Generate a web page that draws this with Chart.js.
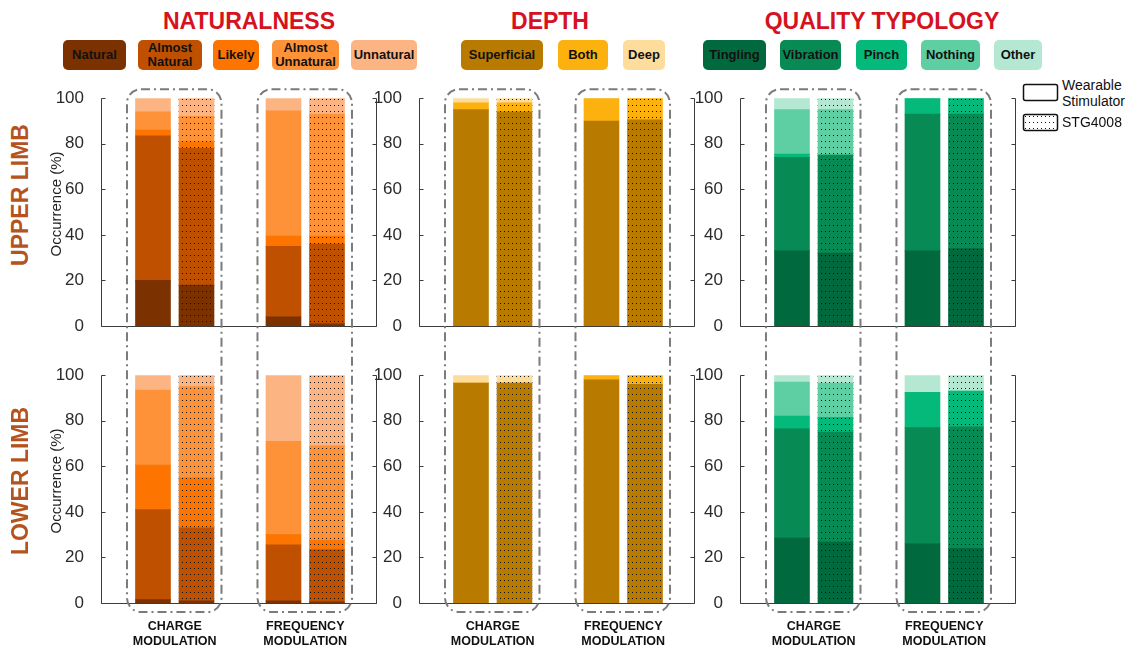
<!DOCTYPE html>
<html>
<head>
<meta charset="utf-8">
<script src="https://cdn.jsdelivr.net/npm/chart.js@4.4.1/dist/chart.umd.min.js"></script>
<style>
  body { margin: 0; background: #fff; }
  #fig { position: relative; width: 1138px; height: 650px; overflow: hidden; background: #fff;
         font-family: "Liberation Sans", Arial, sans-serif; }
  #fig canvas { position: absolute; }
  .title { position: absolute; top: 8px; font-weight: bold; font-size: 23px; color: #d5121e;
           transform: translateX(-50%); white-space: nowrap; }
  .chip { position: absolute; top: 40px; height: 30px; border-radius: 5px; display: flex;
          align-items: center; justify-content: center; text-align: center; font-weight: bold;
          font-size: 13px; line-height: 14px; color: #111; }
  .rot { position: absolute; white-space: nowrap; transform: translate(-50%, -50%) rotate(-90deg); }
  .limb { font-weight: bold; font-size: 23px; color: #b5531f; }
  .ylab { font-size: 15px; color: #222; }
  .leg { position: absolute; font-size: 14px; color: #111; line-height: 16px; }
</style>
</head>
<body>
<div id="fig"></div>
<script>
// ---- categories and values (percent of occurrences) ----
// bar order in each panel: charge/wearable, charge/STG4008, frequency/wearable, frequency/STG4008
const barX = [1, 2, 4, 5];
const groupX = [1.5, 4.5];
const groupLabels = [['CHARGE', 'MODULATION'], ['FREQUENCY', 'MODULATION']];
const yTicks = [0, 20, 40, 60, 80, 100];

const naturalnessCats = ['Natural', 'Almost Natural', 'Likely', 'Almost Unnatural', 'Unnatural'];
const depthCats = ['Superficial', 'Both', 'Deep'];
const qualityCats = ['Tingling', 'Vibration', 'Pinch', 'Nothing', 'Other'];

// naturalness, upper limb (one row per category)
const natUpper = [
  [20, 18, 4, 1],
  [63.5, 60, 31, 35],
  [2.5, 3, 4.5, 3.5],
  [8, 11, 55, 53.5],
  [6, 8, 5.5, 7]
];
// naturalness, lower limb
const natLower = [
  [1.5, 1, 1, 0.5],
  [39.5, 32, 24.5, 23],
  [19.5, 22, 4.5, 4],
  [33, 40, 41, 41.5],
  [6.5, 5, 29, 31]
];
// depth, upper limb
const depthUpper = [
  [95, 94, 90, 90.5],
  [3, 4, 10, 9.5],
  [2, 2, 0, 0]
];
// depth, lower limb
const depthLower = [
  [96.5, 96.5, 98, 96],
  [0, 0, 2, 4],
  [3.5, 3.5, 0, 0]
];
// quality typology, upper limb
const qualUpper = [
  [33, 32, 33, 34],
  [41, 43, 60, 59],
  [1.5, 0, 7, 7],
  [19.5, 20, 0, 0],
  [5, 5, 0, 0]
];
// quality typology, lower limb
const qualLower = [
  [28.5, 27, 26, 24],
  [48, 48, 51, 53.5],
  [5.5, 6.5, 15.5, 15.5],
  [15, 15, 0, 0],
  [3, 3.5, 7.5, 7]
];

// ---- styling ----
const natColors = ['#7c3100', '#bf5000', '#fe7400', '#fd9238', '#fdb483'];
const depthColors = ['#b97a00', '#fdb10f', '#fedc9b'];
const qualColors = ['#006a3e', '#088a54', '#05b97b', '#5dcfa2', '#b4e8d2'];

const FONT = '"Liberation Sans", Arial, sans-serif';
Chart.defaults.font.family = FONT;

const PLOT_W = 276, PLOT_H = 232;
const X_MIN = -0.195, X_MAX = X_MIN + PLOT_W / 43.5;
const Y_W = 60, PAD_T = 15, PAD_R = 15, X_H = 55;
const colLeft = [101, 419, 740];
const rowTop = [94, 371];

const fig = document.getElementById('fig');

// STG4008 bars are drawn with a dotted fill over the category colour
const patternCache = {};
function dotted(color) {
  if (patternCache[color]) return patternCache[color];
  const c = document.createElement('canvas');
  c.width = 4; c.height = 6;
  const g = c.getContext('2d');
  g.fillStyle = color; g.fillRect(0, 0, 4, 6);
  g.fillStyle = '#111';
  g.fillRect(1, 2, 1, 1);
  const p = g.createPattern(c, 'repeat');
  patternCache[color] = p;
  return p;
}

// left/right/bottom axis lines with inward ticks
const axisFrame = {
  id: 'axisFrame',
  afterDraw(chart) {
    const { ctx, chartArea: a, scales: { y } } = chart;
    const l = Math.round(a.left) + 0.5, r = Math.round(a.right) - 0.5;
    const top = Math.round(y.getPixelForValue(100)) + 0.5;
    const bot = Math.round(y.getPixelForValue(0)) + 0.5;
    ctx.save();
    ctx.strokeStyle = '#3c3c3c';
    ctx.lineWidth = 1;
    ctx.beginPath();
    ctx.moveTo(l, top); ctx.lineTo(l, bot); ctx.lineTo(r, bot); ctx.lineTo(r, top);
    yTicks.forEach(v => {
      const py = Math.round(y.getPixelForValue(v)) + 0.5;
      ctx.moveTo(l, py); ctx.lineTo(l + 4, py);
      ctx.moveTo(r, py); ctx.lineTo(r - 4, py);
    });
    ctx.stroke();
    ctx.restore();
  }
};

const charts = [];
function makePanel(col, row, cats, colors, rows) {
  const canvas = document.createElement('canvas');
  const w = Y_W + PLOT_W + PAD_R, h = PAD_T + PLOT_H + X_H;
  canvas.width = w; canvas.height = h;
  canvas.style.width = w + 'px'; canvas.style.height = h + 'px';
  canvas.style.left = (colLeft[col] - Y_W) + 'px';
  canvas.style.top = (rowTop[row] - PAD_T) + 'px';
  fig.appendChild(canvas);

  const datasets = cats.map((name, k) => ({
    label: name,
    data: barX.map((x, i) => ({ x, y: rows[k][i] })),
    backgroundColor: barX.map((x, i) => (i % 2 ? dotted(colors[k]) : colors[k])),
    borderWidth: 0,
    barThickness: 35
  }));

  const chart = new Chart(canvas, {
    type: 'bar',
    data: { datasets },
    options: {
      responsive: false,
      animation: false,
      devicePixelRatio: 1,
      layout: { padding: { top: PAD_T, right: PAD_R, left: 0, bottom: 0 } },
      plugins: { legend: { display: false }, tooltip: { enabled: false } },
      scales: {
        x: {
          type: 'linear', stacked: true, min: X_MIN, max: X_MAX, offset: false,
          grid: { display: false }, border: { display: false },
          afterBuildTicks: s => { s.ticks = groupX.map(v => ({ value: v })); },
          afterFit: s => { s.height = X_H; },
          ticks: {
            display: row === 1, autoSkip: false, maxRotation: 0, minRotation: 0, padding: 8,
            color: '#111', font: { size: 12.5, weight: 'bold', lineHeight: 1.2 },
            callback: (v, i) => groupLabels[i]
          }
        },
        y: {
          stacked: true, min: 0, max: 100,
          grid: { display: false }, border: { display: false },
          afterBuildTicks: s => { s.ticks = yTicks.map(v => ({ value: v })); },
          afterFit: s => { s.width = Y_W; },
          ticks: { padding: 9, color: '#2b2b2b', font: { size: 17 } }
        }
      }
    },
    plugins: [axisFrame]
  });
  charts.push({ chart, col, row, left: colLeft[col] - Y_W, top: rowTop[row] - PAD_T });
  return chart;
}

makePanel(0, 0, naturalnessCats, natColors, natUpper);
makePanel(0, 1, naturalnessCats, natColors, natLower);
makePanel(1, 0, depthCats, depthColors, depthUpper);
makePanel(1, 1, depthCats, depthColors, depthLower);
makePanel(2, 0, qualityCats, qualColors, qualUpper);
makePanel(2, 1, qualityCats, qualColors, qualLower);

// ---- titles, category chips, side labels ----
function addDiv(cls, text, style) {
  const d = document.createElement('div');
  d.className = cls;
  d.innerHTML = text;
  Object.assign(d.style, style);
  fig.appendChild(d);
  return d;
}
addDiv('title', 'NATURALNESS', { left: '249px' });
addDiv('title', 'DEPTH', { left: '550px' });
addDiv('title', 'QUALITY TYPOLOGY', { left: '882px' });

const chipSpans = {
  nat: [[63, 126], [138, 202], [213, 259], [272, 339], [351, 417]],
  depth: [[461, 543], [558, 608], [623, 665]],
  qual: [[703, 766], [780, 841], [856, 907], [921, 980], [994, 1042]]
};
function chips(cats, colors, spans) {
  cats.forEach((name, k) => {
    addDiv('chip', name.replace(' ', '<br>'), {
      left: spans[k][0] + 'px', width: (spans[k][1] - spans[k][0]) + 'px', background: colors[k]
    });
  });
}
chips(naturalnessCats, natColors, chipSpans.nat);
chips(depthCats, depthColors, chipSpans.depth);
chips(qualityCats, qualColors, chipSpans.qual);

const limbCenters = [195, 481];
rowTop.forEach((t, r) => {
  const cy = t + PLOT_H / 2;
  addDiv('rot limb', r === 0 ? 'UPPER LIMB' : 'LOWER LIMB', { left: '20px', top: limbCenters[r] + 'px' });
  addDiv('rot ylab', 'Occurrence (%)', { left: '55px', top: (cy - 6) + 'px' });
});
addDiv('leg', 'Wearable<br>Stimulator', { left: '1062px', top: '77px' });
addDiv('leg', 'STG4008', { left: '1062px', top: '114px' });

// ---- overlay: dash-dot group frames spanning both limbs, stimulator key ----
const ov = document.createElement('canvas');
ov.width = 1138; ov.height = 650;
ov.style.left = '0px'; ov.style.top = '0px';
fig.appendChild(ov);
const g = ov.getContext('2d');
g.strokeStyle = '#7b7b7b';
g.lineWidth = 2;
g.setLineDash([9, 4, 2, 4]);
[0, 1, 2].forEach(col => {
  const up = charts.find(c => c.col === col && c.row === 0);
  const lo = charts.find(c => c.col === col && c.row === 1);
  const bars = up.chart.getDatasetMeta(0).data;
  const yT = up.top + up.chart.scales.y.getPixelForValue(100) - 9;
  const yB = lo.top + lo.chart.scales.y.getPixelForValue(0) + 9;
  [0, 1].forEach(gi => {
    const b0 = bars[gi * 2], b1 = bars[gi * 2 + 1];
    const xL = up.left + b0.x - b0.width / 2 - 8.5;
    const xR = up.left + b1.x + b1.width / 2 + 7.5;
    g.beginPath();
    g.roundRect(xL, yT, xR - xL, yB - yT, 14);
    g.stroke();
  });
});
g.setLineDash([]);
g.strokeStyle = '#111';
g.lineWidth = 1.5;
g.fillStyle = '#fff';
g.beginPath(); g.roundRect(1023.5, 84.5, 34, 16, 2); g.fill(); g.stroke();
g.fillStyle = dotted('#ffffff');
g.beginPath(); g.roundRect(1023.5, 114.5, 34, 16, 2); g.fill(); g.stroke();
</script>
</body>
</html>
